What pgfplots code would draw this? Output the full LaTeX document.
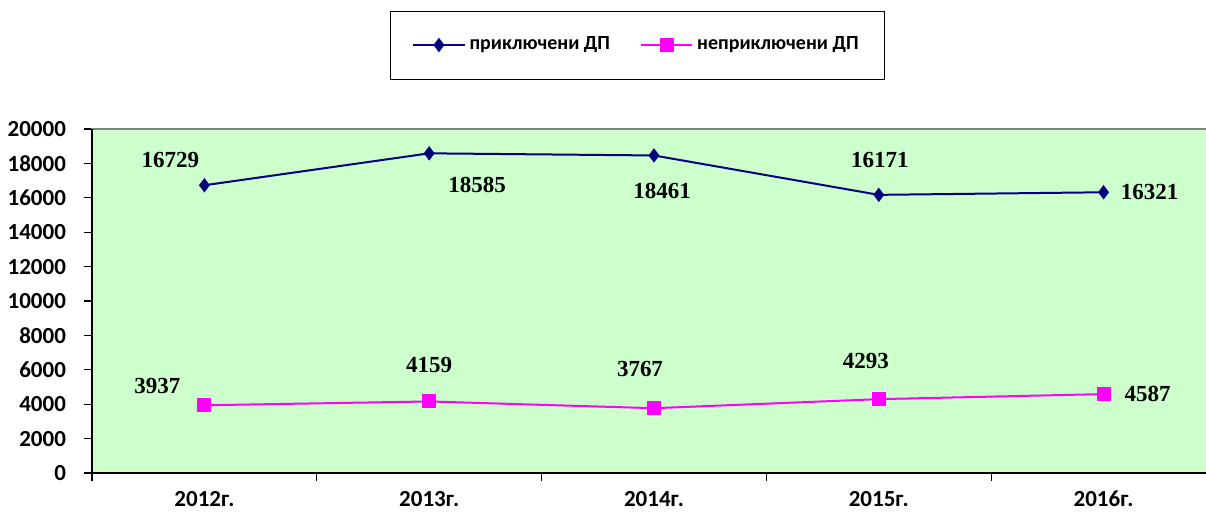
\documentclass[border=0pt]{standalone}
\usepackage{pgfplots}
\pgfplotsset{compat=1.18}
\usepackage{fontspec}
\setmainfont{Carlito}
\newfontfamily\tnr{Liberation Serif}
\definecolor{plotbg}{RGB}{204,255,204}
\definecolor{navyline}{RGB}{0,0,128}
\definecolor{magline}{RGB}{255,0,255}
\begin{document}
\begin{tikzpicture}
\begin{axis}[
  at={(0,0)}, anchor=south west,
  scale only axis, width=562pt, height=172pt,
  xmin=-0.5, xmax=4.5, ymin=0, ymax=20000,
  ytick={0,2000,...,20000},
  scaled y ticks=false,
  xtick={0,...,4},
  xticklabels={2012г.,2013г.,2014г.,2015г.,2016г.},
  minor xtick={-0.5,0.5,...,4.5},
  xtick pos=bottom, ytick pos=left,
  tick align=outside,
  major tick length=4pt, minor tick length=4pt,
  major x tick style={draw=none},
  tick style={black, line width=0.6pt},
  axis line style={draw=gray, line width=1pt},
  axis background/.style={fill=plotbg},
  /pgf/number format/assume math mode=true,
  /pgf/number format/1000 sep={},
  ticklabel style={font=\bfseries\fontsize{11.5}{13}\selectfont},
  yticklabel style={xshift=-5.5pt},
  xticklabel style={yshift=-1.5pt},
  clip=false,
  legend columns=2,
  legend style={at={(272.75pt,214pt)}, anchor=center, draw=black, fill=white,
    inner xsep=11pt, inner ysep=11pt,
    font=\bfseries\fontsize{10}{12}\selectfont,
    /tikz/every even column/.append style={column sep=13pt}},
  legend image code/.code={
    \draw[mark repeat=2, mark phase=2] plot coordinates {(0cm,0cm) (0.45cm,0cm) (0.9cm,0cm)};},
]
\addplot[navyline, line width=1pt, mark=diamond*, mark size=2.8pt] coordinates {
  (0,16729) (1,18585) (2,18461) (3,16171) (4,16321)};
\addlegendentry{приключени ДП}
\addplot[magline, line width=1pt, mark=square*, mark size=3pt] coordinates {
  (0,3937) (1,4159) (2,3767) (3,4293) (4,4587)};
\addlegendentry{неприключени ДП}

\draw[black, line width=1pt] (rel axis cs:0,1) -- (rel axis cs:0,0) -- (rel axis cs:1,0);

\begin{scope}[every node/.style={font=\tnr\bfseries\fontsize{11.5}{13}\selectfont}]
\node at (axis cs:0,16729) [xshift=-17pt, yshift=12.5pt] {16729};
\node at (axis cs:1,18585) [xshift=24pt, yshift=-16pt] {18585};
\node at (axis cs:2,18461) [xshift=4pt, yshift=-17.5pt] {18461};
\node at (axis cs:3,16171) [xshift=0.5pt, yshift=17.5pt] {16171};
\node at (axis cs:4,16321) [xshift=23pt] {16321};
\node at (axis cs:0,3937) [xshift=-23.5pt, yshift=9.5pt] {3937};
\node at (axis cs:1,4159) [yshift=18pt] {4159};
\node at (axis cs:2,3767) [xshift=-7pt, yshift=19.5pt] {3767};
\node at (axis cs:3,4293) [xshift=-6.5pt, yshift=19pt] {4293};
\node at (axis cs:4,4587) [xshift=22pt] {4587};
\end{scope}
\end{axis}
\pgfresetboundingbox
\path[use as bounding box] (-46pt,-19.5pt) rectangle (557pt,236.5pt);
\end{tikzpicture}
\end{document}
